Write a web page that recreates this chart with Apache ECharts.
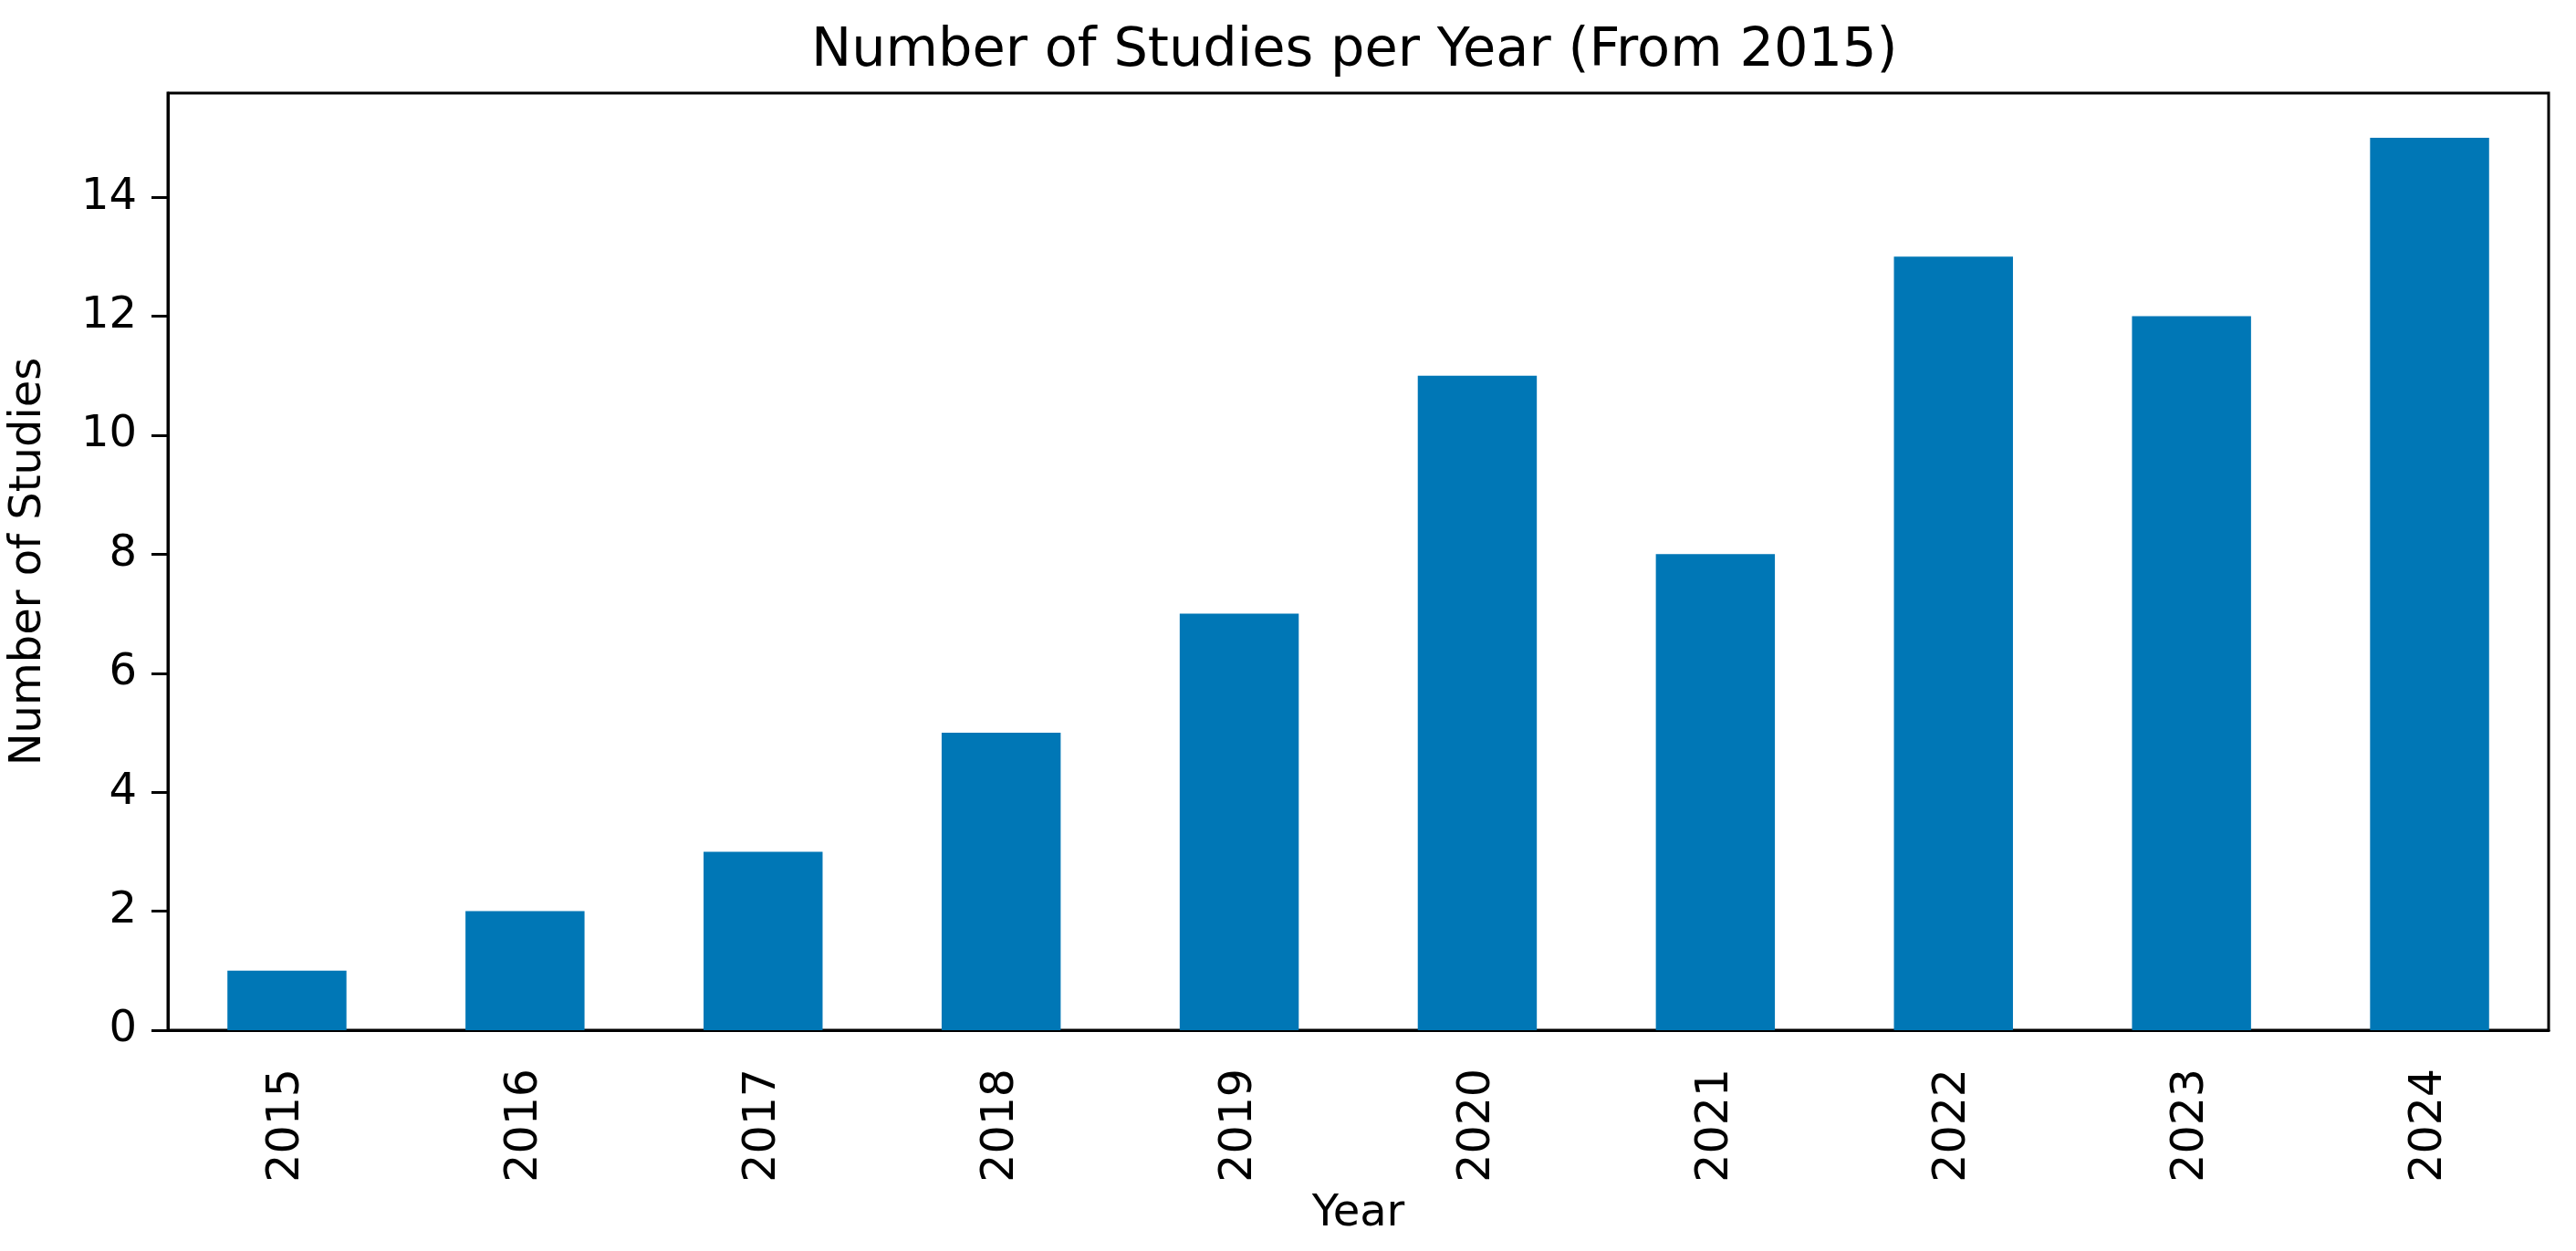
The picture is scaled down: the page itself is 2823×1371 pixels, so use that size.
<!DOCTYPE html>
<html>
<head>
<meta charset="utf-8">
<script src="https://cdn.jsdelivr.net/npm/echarts@6/dist/echarts.min.js"></script>
<style>
html, body { margin: 0; padding: 0; background: #fff; }
#chart { width: 2823px; height: 1371px; }
</style>
</head>
<body>
<div id="chart"></div>
<script>
const years = ['2015', '2016', '2017', '2018', '2019', '2020', '2021', '2022', '2023', '2024'];
const studies = [1, 2, 3, 5, 7, 11, 8, 13, 12, 15];
const yTicks = [0, 2, 4, 6, 8, 10, 12, 14];
const yMax = 15.75;

const FONT = 'DejaVu Sans';
const chart = echarts.init(document.getElementById('chart'), null, { renderer: 'canvas' });
chart.setOption({
  animation: false,
  backgroundColor: '#ffffff',
  title: {
    text: 'Number of Studies per Year (From 2015)',
    left: 884,
    top: 22,
    textStyle: { fontFamily: FONT, fontSize: 59, fontWeight: 'normal', color: '#000' }
  },
  grid: {
    left: 182, right: 30, top: 102, bottom: 242,
    show: true, borderColor: '#000', borderWidth: 3, backgroundColor: 'transparent'
  },
  xAxis: {
    type: 'category',
    data: years,
    name: 'Year',
    nameLocation: 'middle',
    nameGap: 178,
    nameTextStyle: { fontFamily: FONT, fontSize: 48, color: '#000' },
    axisLine: { lineStyle: { color: '#000', width: 3 } },
    axisTick: { alignWithLabel: true, length: 18, lineStyle: { color: '#000', width: 3 } },
    axisLabel: { rotate: 90, margin: 42, fontFamily: FONT, fontSize: 49, color: '#000' }
  },
  yAxis: {
    type: 'value',
    min: 0,
    max: yMax,
    interval: 2,
    name: 'Number of Studies',
    nameLocation: 'middle',
    nameGap: 128,
    nameTextStyle: { fontFamily: FONT, fontSize: 48, color: '#000' },
    splitLine: { show: false },
    axisLine: { show: true, lineStyle: { color: '#000', width: 3 } },
    axisTick: { show: true, length: 18, customValues: yTicks, lineStyle: { color: '#000', width: 3 } },
    axisLabel: { margin: 34, customValues: yTicks, fontFamily: FONT, fontSize: 48, color: '#000' }
  },
  series: [{
    type: 'bar',
    data: studies,
    barWidth: '50%',
    itemStyle: { color: '#0077b6' }
  }]
});
</script>
</body>
</html>
